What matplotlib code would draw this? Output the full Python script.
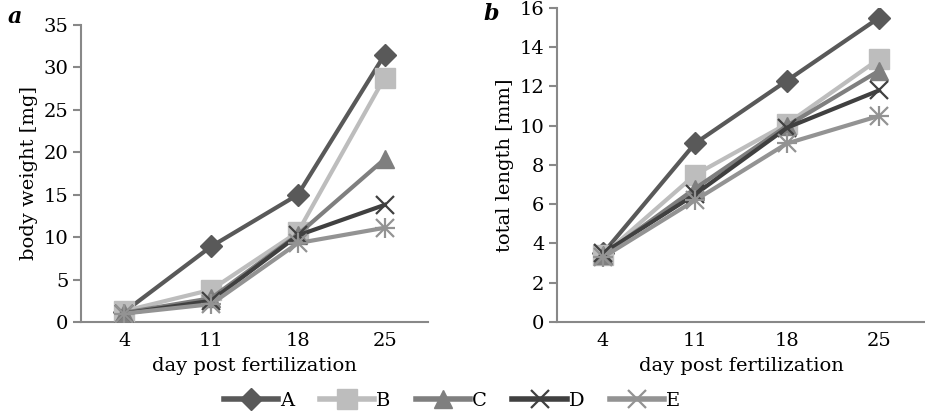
import numpy as np
import matplotlib.pyplot as plt
from matplotlib.lines import Line2D

# day post fertilization
days = ['4', '11', '18', '25']
groups = ['A', 'B', 'C', 'D', 'E']

# body weight [mg]
weight_A = [1.2, 8.9, 15.0, 31.5]
weight_B = [1.3, 3.8, 10.6, 28.8]
weight_C = [1.1, 2.8, 10.3, 19.2]
weight_D = [1.0, 2.5, 10.2, 13.8]
weight_E = [1.0, 2.1, 9.3, 11.1]

# total length [mm]
length_A = [3.5, 9.1, 12.3, 15.5]
length_B = [3.4, 7.5, 10.1, 13.4]
length_C = [3.4, 6.8, 10.0, 12.8]
length_D = [3.5, 6.5, 9.9, 11.8]
length_E = [3.3, 6.2, 9.1, 10.5]

colors = ['#595959', '#bdbdbd', '#7f7f7f', '#404040', '#939393']
markers = ['D', 's', '^', 'x', '*']
msizes = [11, 14, 13, 13, 13]

plt.rcParams['font.family'] = 'DejaVu Serif'
plt.rcParams['font.size'] = 14

fig = plt.figure(figsize=(9.25, 4.15), dpi=100)
ax1 = fig.add_axes([81/925, 1-322/415, 347/925, 297/415])
ax2 = fig.add_axes([557/925, 1-322/415, 368/925, 314/415])

x = np.arange(len(days)) + 0.5


def draw(ax, series, ymax, ystep, ylabel):
    for vals, c, m, ms in zip(series, colors, markers, msizes):
        if m in ('x', '*'):
            ax.plot(x, vals, color=c, lw=3, zorder=3)
            ax.plot(x, vals, ls='none', marker='x', color=c, ms=ms, mew=1.6, zorder=4)
            if m == '*':
                ax.plot(x, vals, ls='none', marker='+', color=c, ms=ms + 2, mew=1.6, zorder=4)
        else:
            ax.plot(x, vals, color=c, lw=3, marker=m, ms=ms, mec=c, zorder=3)
    ax.set_xlim(0, len(days))
    ax.set_ylim(0, ymax)
    ax.set_xticks(x)
    ax.set_xticklabels(days)
    ax.set_yticks(np.arange(0, ymax + 0.1, ystep))
    ax.tick_params(axis='x', length=0, pad=7)
    ax.tick_params(axis='y', length=6, width=1.5, color='#888888', direction='out', pad=3)
    for s in ['top', 'right']:
        ax.spines[s].set_visible(False)
    for s in ['left', 'bottom']:
        ax.spines[s].set_color('#888888')
        ax.spines[s].set_linewidth(1.5)
    ax.set_xlabel('day post fertilization', labelpad=5)
    ax.set_ylabel(ylabel, labelpad=4)


draw(ax1, [weight_A, weight_B, weight_C, weight_D, weight_E], 35, 5, 'body weight [mg]')
draw(ax2, [length_A, length_B, length_C, length_D, length_E], 16, 2, 'total length [mm]')

fig.text(8/925, 1-17/415, 'a', fontsize=16, fontweight='bold', fontstyle='italic', va='center')
fig.text(483/925, 1-14/415, 'b', fontsize=16, fontweight='bold', fontstyle='italic', va='center')

handles = []
for c, m, ms in zip(colors, markers, msizes):
    mk = 'x' if m == '*' else m
    handles.append(Line2D([], [], color=c, lw=4, marker=mk, ms=ms, mew=1.6 if mk == 'x' else 1, mec=c))
fig.legend(handles, groups, loc='center', bbox_to_anchor=(452/925, 1-401/415), ncol=5,
           frameon=False, handlelength=2.8, handletextpad=0.1, columnspacing=1.3)

fig.savefig('out.png', dpi=100)
